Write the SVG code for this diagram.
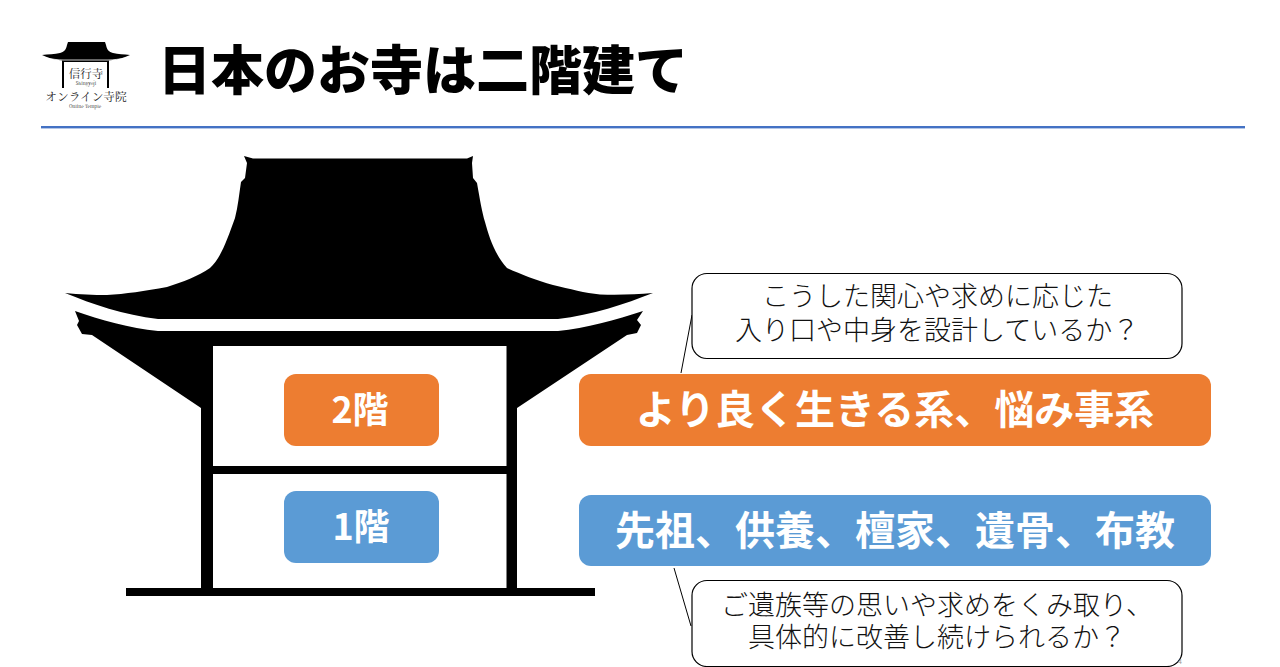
<svg xmlns="http://www.w3.org/2000/svg" width="1280" height="667" viewBox="0 0 1280 667">
<style>
text{font-family:"Noto Sans CJK JP","Noto Sans",sans-serif}
.title{font-size:53px;font-weight:900;fill:#000}
.lbl{font-size:36px;font-weight:700;fill:#fff;text-anchor:middle}
.big{font-size:40px;font-weight:700;fill:#fff;text-anchor:middle}
.call{font-size:27px;font-weight:300;fill:#111}
.bubble{fill:#fff;stroke:#000;stroke-width:1.2}
.lg{font-family:"Noto Serif CJK JP","Liberation Serif","Noto Sans CJK JP",serif;fill:#222;text-anchor:middle}
</style>
<rect width="1280" height="667" fill="#fff"/>
<g id="logo">
<path d="M68 42H105L106 45C107 50 109 52 113 53C118 54 124 54.500 130 55C124 58 116 60 109 60.500V88H107V62H64V88H62V60.500C55 60 48 58 42 55C48 54.500 55 54 60 53C64 52 66 50 67 45Z" fill="#000"/>
<path d="M46 58C52 59 58 60 63 60H108C113 60 120 59 126 58" fill="none" stroke="#fff" stroke-width="0.800"/>
<text class="lg" x="86" y="78" font-size="11.500">信行寺</text>
<text class="lg" x="86" y="85" font-size="4.500">Shingyoji</text>
<text class="lg" x="86" y="101" font-size="11.700">オンライン寺院</text>
<text class="lg" x="85" y="108" font-size="4.500">Online Temple</text>
</g>
<text id="title" class="title" x="158" y="90">日本のお寺は二階建て</text>
<rect id="rule" x="41" y="126" width="1204" height="2.400" fill="#4472C4"/>
<g id="temple">
<path d="M244 156L253 158.500H467L473 156L472 163L473 178L477 183C480 200 482 212 485 222C489 237 495 255 507 268C520 274 536 280 553 285C570 289 585 293 600 294.500C620 295 636 294.500 653 293C625 304 592 315 558 319H158C124 315 92 304 65 293C80 294.500 93 295 107 295C125 294 145 291 167 287C183 282 198 276 210 268C221 258 227 240 235 218C238 206 239 195 241 182L245 178L247 163Z" fill="#000"/>
<path d="M75 311C100 320 130 328 158 331H558C586 328 616 320 643 311L637 320L641 325L637 333L627 335L517 408V588H506V474H213V588H201V408L92 335L82 334L77 325L79 321Z" fill="#000"/>
<rect x="213" y="346" width="293.500" height="120" fill="#fff"/>
<rect x="213" y="474" width="293.500" height="114" fill="#fff"/>
<rect x="201" y="466" width="316" height="8" fill="#000"/>
<rect x="126" y="588" width="469" height="8" fill="#000"/>
</g>
<g id="connectors" fill="none" stroke="#000" stroke-width="1">
<path d="M692 315L681 373"/>
<path d="M674 568L691 626"/>
</g>
<g id="floor2">
<rect x="284" y="374" width="155" height="72" rx="12" fill="#ED7D31"/>
<text class="lbl" x="360" y="423">2階</text>
</g>
<g id="floor1">
<rect x="284" y="491" width="155" height="72" rx="12" fill="#5B9BD5"/>
<text class="lbl" x="361" y="540">1階</text>
</g>
<g id="band2">
<rect x="579" y="374" width="632" height="72" rx="12" fill="#ED7D31"/>
<text class="big" x="895" y="424">より良く生きる系、悩み事系</text>
</g>
<g id="band1">
<rect x="579" y="495" width="632" height="71" rx="12" fill="#5B9BD5"/>
<text class="big" x="895" y="545">先祖、供養、檀家、遺骨、布教</text>
</g>
<g id="callout-top">
<rect class="bubble" x="692" y="273.500" width="490" height="85" rx="15"/>
<text class="call" x="762" y="306">こうした関心や求めに応じた</text>
<text class="call" x="735" y="340">入り口や中身を設計しているか？</text>
</g>
<g id="callout-bottom">
<rect class="bubble" x="692" y="580.500" width="490" height="86" rx="15"/>
<text class="call" x="721" y="615">ご遺族等の思いや求めをくみ取り、</text>
<text class="call" x="748" y="647">具体的に改善し続けられるか？</text>
</g>
<text id="page" x="1178" y="664" font-size="7" fill="#999">4</text>
</svg>
